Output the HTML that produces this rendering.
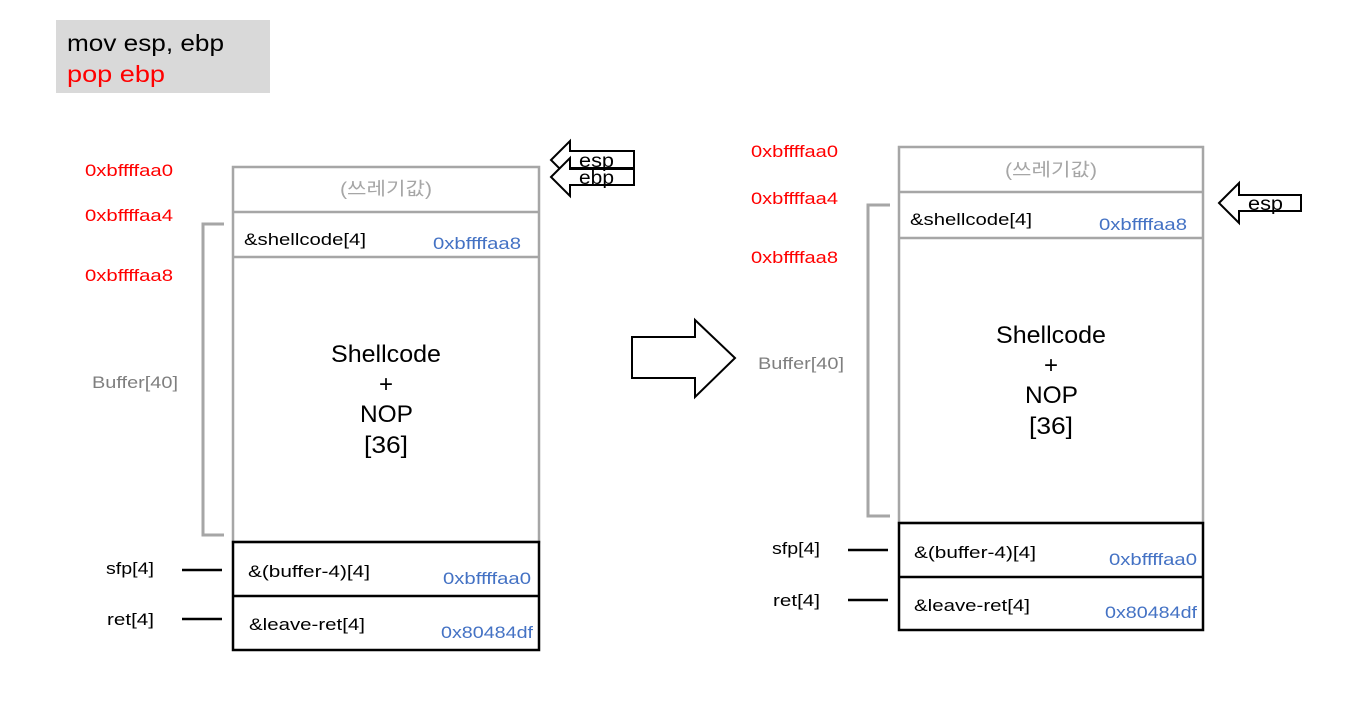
<!DOCTYPE html>
<html><head><meta charset="utf-8"><style>
html,body{margin:0;padding:0;background:#fff;}
svg{display:block;font-family:"Liberation Sans","Noto Sans CJK KR",sans-serif;}
</style></head><body>
<svg width="1351" height="701" viewBox="0 0 1351 701">
<rect x="56" y="20" width="214" height="73" fill="#d9d9d9"/>
<text x="67" y="51" font-size="23" fill="#000" textLength="157" lengthAdjust="spacingAndGlyphs">mov esp, ebp</text>
<text x="67" y="82" font-size="23" fill="#ff0000" textLength="98" lengthAdjust="spacingAndGlyphs">pop ebp</text>

<!-- left stack -->
<g font-size="17">
<text x="85" y="176" fill="#ff0000" textLength="88" lengthAdjust="spacingAndGlyphs">0xbffffaa0</text>
<text x="85" y="221" fill="#ff0000" textLength="88" lengthAdjust="spacingAndGlyphs">0xbffffaa4</text>
<text x="85" y="281" fill="#ff0000" textLength="88" lengthAdjust="spacingAndGlyphs">0xbffffaa8</text>
<text x="92" y="388" fill="#7f7f7f" textLength="86" lengthAdjust="spacingAndGlyphs">Buffer[40]</text>
<text x="106" y="574" fill="#000" textLength="48" lengthAdjust="spacingAndGlyphs">sfp[4]</text>
<text x="107" y="625" fill="#000" textLength="47" lengthAdjust="spacingAndGlyphs">ret[4]</text>
</g>
<polyline points="224,224 203,224 203,535 224,535" fill="none" stroke="#a6a6a6" stroke-width="3"/>
<line x1="182" y1="570" x2="222" y2="570" stroke="#000" stroke-width="2.5"/>
<line x1="182" y1="619" x2="222" y2="619" stroke="#000" stroke-width="2.5"/>
<rect x="233" y="167" width="306" height="375" fill="none" stroke="#a6a6a6" stroke-width="2.5"/>
<line x1="233" y1="212" x2="539" y2="212" stroke="#a6a6a6" stroke-width="2.5"/>
<line x1="233" y1="257" x2="539" y2="257" stroke="#a6a6a6" stroke-width="2.5"/>
<rect x="233" y="542" width="306" height="108" fill="none" stroke="#000" stroke-width="2.5"/>
<line x1="233" y1="596" x2="539" y2="596" stroke="#000" stroke-width="2.5"/>
<text x="340" y="195" font-size="18" fill="#a6a6a6" textLength="92" lengthAdjust="spacingAndGlyphs">(쓰레기값)</text>
<text x="244" y="245" font-size="17" textLength="122" lengthAdjust="spacingAndGlyphs">&amp;shellcode[4]</text>
<text x="433" y="249" font-size="17" fill="#4472c4" textLength="88" lengthAdjust="spacingAndGlyphs">0xbffffaa8</text>
<g font-size="24">
<text x="331" y="362" textLength="110" lengthAdjust="spacingAndGlyphs">Shellcode</text><text x="386" y="392" text-anchor="middle">+</text>
<text x="360" y="422" textLength="53" lengthAdjust="spacingAndGlyphs">NOP</text><text x="364" y="453" textLength="44" lengthAdjust="spacingAndGlyphs">[36]</text>
</g>
<text x="248" y="577" font-size="17" textLength="122" lengthAdjust="spacingAndGlyphs">&amp;(buffer-4)[4]</text>
<text x="443" y="584" font-size="17" fill="#4472c4" textLength="88" lengthAdjust="spacingAndGlyphs">0xbffffaa0</text>
<text x="249" y="630" font-size="17" textLength="116" lengthAdjust="spacingAndGlyphs">&amp;leave-ret[4]</text>
<text x="441" y="638" font-size="17" fill="#4472c4" textLength="92" lengthAdjust="spacingAndGlyphs">0x80484df</text>

<!-- left small arrows -->
<polygon points="551,160 570,141 570,151 634,151 634,168 570,168 570,179" fill="#fff" stroke="#000" stroke-width="2"/>
<polygon points="551,177 570,158 570,169 634,169 634,185 570,185 570,196" fill="#fff" stroke="#000" stroke-width="2"/>
<line x1="570" y1="168" x2="634" y2="168" stroke="#000" stroke-width="2"/>
<text x="579" y="167" font-size="19" textLength="35" lengthAdjust="spacingAndGlyphs">esp</text>
<text x="579" y="184" font-size="19" textLength="35" lengthAdjust="spacingAndGlyphs">ebp</text>

<!-- big arrow -->
<polygon points="632,337 695,337 695,320 735,358 695,397 695,378 632,378" fill="#fff" stroke="#000" stroke-width="2"/>

<!-- right stack -->
<g font-size="17">
<text x="751" y="157" fill="#ff0000" textLength="87" lengthAdjust="spacingAndGlyphs">0xbffffaa0</text>
<text x="751" y="204" fill="#ff0000" textLength="87" lengthAdjust="spacingAndGlyphs">0xbffffaa4</text>
<text x="751" y="263" fill="#ff0000" textLength="87" lengthAdjust="spacingAndGlyphs">0xbffffaa8</text>
<text x="758" y="369" fill="#7f7f7f" textLength="86" lengthAdjust="spacingAndGlyphs">Buffer[40]</text>
<text x="772" y="554" fill="#000" textLength="48" lengthAdjust="spacingAndGlyphs">sfp[4]</text>
<text x="773" y="606" fill="#000" textLength="47" lengthAdjust="spacingAndGlyphs">ret[4]</text>
</g>
<polyline points="890,205 868,205 868,516 890,516" fill="none" stroke="#a6a6a6" stroke-width="3"/>
<line x1="848" y1="550" x2="888" y2="550" stroke="#000" stroke-width="2.5"/>
<line x1="848" y1="600" x2="888" y2="600" stroke="#000" stroke-width="2.5"/>
<rect x="899" y="147" width="304" height="376" fill="none" stroke="#a6a6a6" stroke-width="2.5"/>
<line x1="899" y1="192" x2="1203" y2="192" stroke="#a6a6a6" stroke-width="2.5"/>
<line x1="899" y1="238" x2="1203" y2="238" stroke="#a6a6a6" stroke-width="2.5"/>
<rect x="899" y="523" width="304" height="107" fill="none" stroke="#000" stroke-width="2.5"/>
<line x1="899" y1="577" x2="1203" y2="577" stroke="#000" stroke-width="2.5"/>
<text x="1005" y="176" font-size="18" fill="#a6a6a6" textLength="92" lengthAdjust="spacingAndGlyphs">(쓰레기값)</text>
<text x="910" y="225" font-size="17" textLength="122" lengthAdjust="spacingAndGlyphs">&amp;shellcode[4]</text>
<text x="1099" y="230" font-size="17" fill="#4472c4" textLength="88" lengthAdjust="spacingAndGlyphs">0xbffffaa8</text>
<g font-size="24">
<text x="996" y="343" textLength="110" lengthAdjust="spacingAndGlyphs">Shellcode</text><text x="1051" y="373" text-anchor="middle">+</text>
<text x="1025" y="403" textLength="53" lengthAdjust="spacingAndGlyphs">NOP</text><text x="1029" y="434" textLength="44" lengthAdjust="spacingAndGlyphs">[36]</text>
</g>
<text x="914" y="558" font-size="17" textLength="122" lengthAdjust="spacingAndGlyphs">&amp;(buffer-4)[4]</text>
<text x="1109" y="565" font-size="17" fill="#4472c4" textLength="88" lengthAdjust="spacingAndGlyphs">0xbffffaa0</text>
<text x="914" y="611" font-size="17" textLength="116" lengthAdjust="spacingAndGlyphs">&amp;leave-ret[4]</text>
<text x="1105" y="618" font-size="17" fill="#4472c4" textLength="92" lengthAdjust="spacingAndGlyphs">0x80484df</text>

<polygon points="1219,203 1239,183 1239,195 1301,195 1301,211 1239,211 1239,223" fill="#fff" stroke="#000" stroke-width="2"/>
<text x="1248" y="210" font-size="19" textLength="35" lengthAdjust="spacingAndGlyphs">esp</text>
</svg>
</body></html>
